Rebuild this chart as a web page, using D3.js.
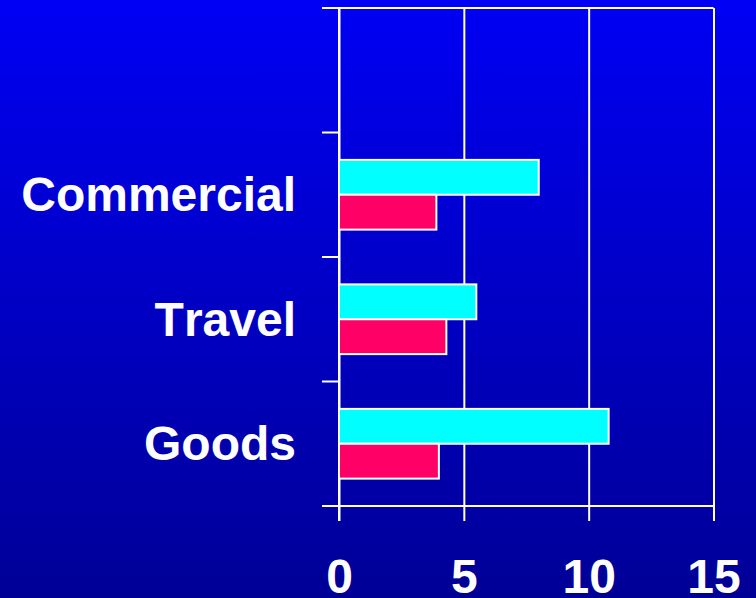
<!DOCTYPE html>
<html>
<head>
<meta charset="utf-8">
<script src="https://cdn.jsdelivr.net/npm/d3@7"></script>
<style>
  html, body { margin: 0; padding: 0; background: #0000c0; }
  svg { display: block; }
  text { font-family: "Liberation Sans", Arial, sans-serif; font-weight: bold; fill: #ffffff; font-kerning: none; }
</style>
</head>
<body>
<svg id="chart" width="756" height="598"></svg>
<script>
// Categories from top to bottom; the first slot is left empty.
const categories = ["", "Commercial", "Travel", "Goods"];
const seriesNames = ["first", "second"];
const firstValues = [8.0, 5.5, 10.8];   // cyan bars
const secondValues = [3.9, 4.3, 4.0];   // red bars
const xTicks = [0, 5, 10, 15];
const colors = ["#00ffff", "#ff0066"];

const W = 756, H = 598;
const plotLeft = 339, plotRight = 713.5, plotTop = 8, plotBottom = 506;

const svg = d3.select("#chart");

// Background gradient: bright blue at the top fading to navy
const defs = svg.append("defs");
const grad = defs.append("linearGradient").attr("id", "bg")
  .attr("x1", 0).attr("y1", 0).attr("x2", 0).attr("y2", 1);
grad.append("stop").attr("offset", "0%").attr("stop-color", "#0000f4");
grad.append("stop").attr("offset", "100%").attr("stop-color", "#000096");
svg.append("rect").attr("width", W).attr("height", H).attr("fill", "url(#bg)");

const x = d3.scaleLinear().domain([0, 15]).range([plotLeft, plotRight]);
const y0 = d3.scaleBand().domain(categories).range([plotTop, plotBottom]).padding(0);
const bh = y0.bandwidth();
const y1 = d3.scaleBand().domain(seriesNames).range([bh * 0.22, bh * 0.78]).padding(0);

// Vertical grid lines, extending below the baseline as tick marks
const xAxis = d3.axisBottom(x).tickValues(xTicks).tickSize(15).tickPadding(38).tickFormat(d3.format("d"));
const gx = svg.append("g").attr("transform", `translate(0,${plotBottom})`).call(xAxis);
gx.select(".domain").remove();
gx.selectAll(".tick line")
  .attr("y1", -(plotBottom - plotTop))
  .attr("stroke", "#ffffff").attr("stroke-width", 2);
gx.selectAll(".tick text").attr("font-size", 48).attr("dy", "0.7em");

// Category boundary ticks on the left axis, plus top and bottom frame lines
const edges = categories.map(c => y0(c)).concat([plotBottom]);
svg.append("g").selectAll("line").data(edges).join("line")
  .attr("x1", plotLeft - 17)
  .attr("x2", (d, i) => (i === 0 || i === edges.length - 1) ? plotRight : plotLeft)
  .attr("y1", d => d).attr("y2", d => d)
  .attr("stroke", "#ffffff").attr("stroke-width", 2);

// Left axis line
svg.append("line")
  .attr("x1", plotLeft).attr("x2", plotLeft)
  .attr("y1", plotTop).attr("y2", plotBottom + 15)
  .attr("stroke", "#ffffff").attr("stroke-width", 2);

// Category labels
const yAxis = d3.axisLeft(y0).tickSize(0).tickPadding(43);
const gy = svg.append("g").attr("transform", `translate(${plotLeft},0)`).call(yAxis);
gy.select(".domain").remove();
gy.selectAll(".tick text").attr("font-size", 48).attr("dy", "0.34em");

// Grouped bars
const rows = categories.slice(1).map((c, i) => ({
  cat: c,
  vals: [{ s: "first", v: firstValues[i] }, { s: "second", v: secondValues[i] }]
}));
const groups = svg.append("g").selectAll("g").data(rows).join("g")
  .attr("transform", d => `translate(0,${y0(d.cat)})`);
groups.selectAll("rect").data(d => d.vals).join("rect")
  .attr("x", x(0))
  .attr("y", d => y1(d.s))
  .attr("width", d => x(d.v) - x(0))
  .attr("height", y1.bandwidth())
  .attr("fill", (d, i) => colors[i])
  .attr("stroke", "#ffffff").attr("stroke-width", 2);
</script>
</body>
</html>
